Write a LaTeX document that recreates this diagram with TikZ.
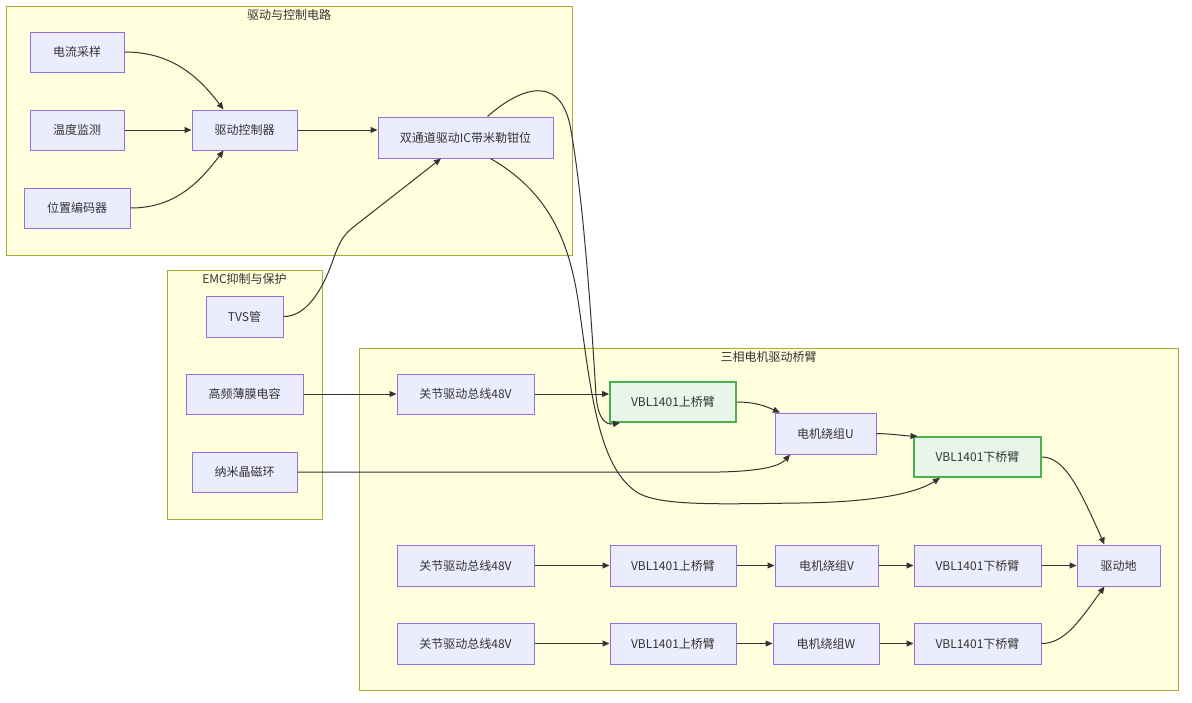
\documentclass[tikz,border=0pt]{standalone}
\usepackage{fontspec}
\setmainfont{Noto Sans CJK SC}
\usetikzlibrary{arrows.meta,calc}
\definecolor{nodeF}{HTML}{ECECFF}
\definecolor{nodeS}{HTML}{9370DB}
\definecolor{gF}{HTML}{E8F5E9}
\definecolor{gS}{HTML}{4CAF50}
\definecolor{clF}{HTML}{FFFFDE}
\definecolor{clS}{HTML}{AAAA33}
\definecolor{edgeC}{HTML}{333333}
\definecolor{txt}{HTML}{333333}
\tikzset{
  box/.style={draw=nodeS, fill=nodeF, line width=1pt, text=txt, font=\fontsize{12}{14}\selectfont, inner sep=0pt, minimum height=40pt},
  gbox/.style={box, draw=gS, fill=gF, line width=1.8pt},
  cl/.style={draw=clS, fill=clF, line width=1pt, inner sep=0pt},
  cltitle/.style={text=txt, font=\fontsize{12}{14}\selectfont, inner sep=0pt},
  edge/.style={draw=edgeC, line width=1pt, -{Triangle[length=7pt,width=6pt]}},
}
\begin{document}
\begin{tikzpicture}[x=1pt,y=-1pt]
\useasboundingbox (0,0) rectangle (1192,702);
% clusters
\node[cl, minimum width=566pt, minimum height=249pt] (cl1) at (289,130.5) {};
\node[cltitle] (t1) at (289,15) {驱动与控制电路};
\node[cl, minimum width=155pt, minimum height=249pt] (cl2) at (244.5,394.5) {};
\node[cltitle] (t2) at (244.5,279) {EMC抑制与保护};
\node[cl, minimum width=819pt, minimum height=342pt] (cl3) at (768.5,519) {};
\node[cltitle] (t3) at (768.5,357) {三相电机驱动桥臂};
% control nodes
\node[box, minimum width=94pt] (cs) at (77,52) {电流采样};
\node[box, minimum width=94pt] (tm) at (77,130) {温度监测};
\node[box, minimum width=106pt] (pe) at (77,208) {位置编码器};
\node[box, minimum width=105pt] (ctrl) at (244.5,130) {驱动控制器};
\node[box, minimum width=175pt, minimum height=41pt] (ic) at (465.5,137.5) {双通道驱动IC带米勒钳位};
% EMC nodes
\node[box, minimum width=77pt, minimum height=41pt] (tvs) at (244.5,316.5) {TVS管};
\node[box, minimum width=117pt] (cap) at (244.5,394) {高频薄膜电容};
\node[box, minimum width=105pt] (mag) at (244.5,472) {纳米晶磁环};
% bridge nodes
\node[box, minimum width=137pt] (busU) at (465.5,394) {关节驱动总线48V};
\node[gbox, minimum width=126pt] (upU) at (673,402) {VBL1401上桥臂};
\node[box, minimum width=101pt, minimum height=41pt] (wU) at (825.5,433.5) {电机绕组U};
\node[gbox, minimum width=127pt] (lowU) at (977.5,457) {VBL1401下桥臂};
\node[box, minimum width=83pt, minimum height=41pt] (gnd) at (1118.5,565.5) {驱动地};
\node[box, minimum width=137pt, minimum height=41pt] (busV) at (465.5,565.5) {关节驱动总线48V};
\node[box, minimum width=126pt, minimum height=41pt] (upV) at (673,565.5) {VBL1401上桥臂};
\node[box, minimum width=103pt, minimum height=41pt] (wV) at (826.5,565.5) {电机绕组V};
\node[box, minimum width=127pt, minimum height=41pt] (lowV) at (977.5,565.5) {VBL1401下桥臂};
\node[box, minimum width=137pt, minimum height=41pt] (busW) at (465.5,643.5) {关节驱动总线48V};
\node[box, minimum width=126pt, minimum height=41pt] (upW) at (673,643.5) {VBL1401上桥臂};
\node[box, minimum width=106pt, minimum height=41pt] (wW) at (826,643.5) {电机绕组W};
\node[box, minimum width=127pt, minimum height=41pt] (lowW) at (977.5,643.5) {VBL1401下桥臂};
% edges: control
\draw[edge] (cs.east) to[out=0,in=127] ([xshift=-21pt]ctrl.north);
\draw[edge] (tm.east) -- (ctrl.west);
\draw[edge] (pe.east) to[out=0,in=-127] ([xshift=-21pt]ctrl.south);
\draw[edge] (ctrl.east) -- (ctrl.east -| ic.west);
\draw[edge] (tvs.east) .. controls (305,317) and (322,292) .. (333,260)
   .. controls (340,240) and (344,234) .. (356,225) -- ([xshift=-24.5pt]ic.south);
\draw[edge] ([xshift=22pt]ic.north) .. controls (515,92) and (558,70) .. (570,125)
   .. controls (584,200) and (592,330) .. (596,395)
   .. controls (598,420) and (606,425) .. ([xshift=-53pt]upU.south);
\draw[edge] ([xshift=25pt]ic.south) .. controls (545,190) and (568,235) .. (578,300)
   .. controls (590,380) and (596,470) .. (640,494)
   .. controls (665,506) and (720,504) .. (800,503)
   .. controls (880,502) and (918,492) .. ([xshift=-37.5pt]lowU.south);
% edges: EMC
\draw[edge] (cap.east) -- (busU.west);
\draw[edge] (mag.east) -- (720,472) .. controls (762,471) and (780,466) .. ([xshift=-35.5pt]wU.south);
% edges: phase U
\draw[edge] (busU.east) -- (busU.east -| upU.west);
\draw[edge] (upU.east) .. controls (755,402) and (765,406) .. ([xshift=-45.5pt]wU.north);
\draw[edge] (wU.east) .. controls (895,434) and (905,436) .. ([xshift=-60pt]lowU.north);
\draw[edge] (lowU.east) .. controls (1065,457) and (1080,490) .. ([xshift=-14pt]gnd.north);
% edges: phase V
\draw[edge] (busV.east) -- (upV.west);
\draw[edge] (upV.east) -- (wV.west);
\draw[edge] (wV.east) -- (lowV.west);
\draw[edge] (lowV.east) -- (gnd.west);
% edges: phase W
\draw[edge] (busW.east) -- (upW.west);
\draw[edge] (upW.east) -- (wW.west);
\draw[edge] (wW.east) -- (lowW.west);
\draw[edge] (lowW.east) .. controls (1065,643.5) and (1080,620) .. ([xshift=-14pt]gnd.south);
\end{tikzpicture}
\end{document}
